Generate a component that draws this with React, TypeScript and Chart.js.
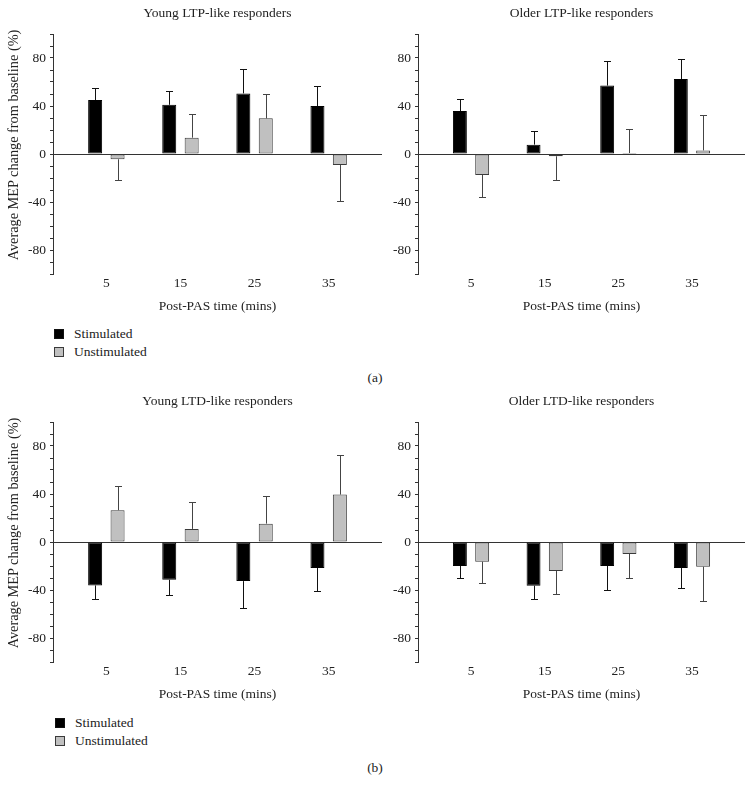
import React, { useEffect, useRef } from 'react';
import { Chart, registerables } from 'chart.js';

Chart.register(...registerables);

// ---------- data ----------
const timePoints = [5, 15, 25, 35];
const timeLabels = ['5', '15', '25', '35'];
const seriesNames = ['Stimulated', 'Unstimulated'];

const youngLtpStim = [45, 41, 50.5, 40];
const youngLtpStimErr = [10, 11.5, 20.5, 16.7];
const youngLtpUnstim = [-4.4, 13.6, 29.7, -9.2];
const youngLtpUnstimErr = [17.6, 19.4, 20, 29.7];

const olderLtpStim = [35.8, 7.8, 57, 62.5];
const olderLtpStimErr = [10, 11.1, 20.5, 16.7];
const olderLtpUnstim = [-17.5, -1.9, 0.8, 3];
const olderLtpUnstimErr = [18.1, 19.8, 20.3, 29.2];

const youngLtdStim = [-36.2, -31.5, -32.6, -21.7];
const youngLtdStimErr = [11.4, 12.8, 22.8, 18.9];
const youngLtdUnstim = [26.5, 10.9, 15.3, 39.5];
const youngLtdUnstimErr = [20.3, 22.2, 22.9, 33.2];

const olderLtdStim = [-20, -36.4, -20, -21.7];
const olderLtdStimErr = [10, 11.1, 19.7, 16.6];
const olderLtdUnstim = [-16.4, -24.2, -10, -20.6];
const olderLtdUnstimErr = [17.8, 19.4, 20, 28.8];

const yAxisTitle = 'Average MEP change from baseline (%)';
const xAxisTitle = 'Post-PAS time (mins)';

// ---------- style ----------
const FONT_FAMILY = "'Liberation Serif', 'Times New Roman', serif";
const TEXT_COLOR = '#222';
const STIM_COLOR = '#000000';
const UNSTIM_COLOR = '#c0c0c0';
const UNSTIM_BORDER = '#3a3a3a';

const errorBarPlugin = {
  id: 'errorBars',
  afterDatasetsDraw(chart: any) {
    const ctx = chart.ctx;
    const yScale = chart.scales.y;
    chart.data.datasets.forEach((ds: any, di: number) => {
      const errs = ds.errors;
      if (!errs) return;
      const meta = chart.getDatasetMeta(di);
      ctx.save();
      ctx.strokeStyle = ds.errorColor || '#000';
      ctx.lineWidth = 1;
      meta.data.forEach((bar: any, i: number) => {
        const v = ds.data[i].y;
        const e = errs[i];
        const end = v >= 0 ? v + e : v - e;
        const x = Math.round(bar.x) + 0.5;
        const y0 = bar.y;
        const y1 = Math.round(yScale.getPixelForValue(end)) + 0.5;
        ctx.beginPath();
        ctx.moveTo(x, y0);
        ctx.lineTo(x, y1);
        ctx.moveTo(x - 3.5, y1);
        ctx.lineTo(x + 3.5, y1);
        ctx.stroke();
      });
      ctx.restore();
    });
  },
};

type PanelProps = {
  title: string;
  stim: number[];
  stimErr: number[];
  unstim: number[];
  unstimErr: number[];
  left: number;
  top: number;
  width: number;
  height: number;
  yAxisWidth: number;
  padRight: number;
};

function Panel(p: PanelProps) {
  const ref = useRef<HTMLCanvasElement | null>(null);
  useEffect(() => {
    if (!ref.current) return;
    const font = { family: FONT_FAMILY, size: 13.5 };
    const chart = new Chart(ref.current, {
      type: 'bar',
      data: {
        datasets: [
          {
            label: seriesNames[0],
            data: timePoints.map((x, i) => ({ x, y: p.stim[i] })),
            backgroundColor: STIM_COLOR,
            borderColor: STIM_COLOR,
            borderWidth: 1,
            borderSkipped: false,
            categoryPercentage: 0.605,
            barPercentage: 0.625,
            errors: p.stimErr,
            errorColor: '#111',
          } as any,
          {
            label: seriesNames[1],
            data: timePoints.map((x, i) => ({ x, y: p.unstim[i] })),
            backgroundColor: UNSTIM_COLOR,
            borderColor: UNSTIM_BORDER,
            borderWidth: 1,
            borderSkipped: false,
            categoryPercentage: 0.605,
            barPercentage: 0.625,
            errors: p.unstimErr,
            errorColor: '#444',
          } as any,
        ],
      },
      options: {
        animation: false,
        responsive: false,
        layout: { padding: { left: 0, right: p.padRight, top: 0, bottom: 0 } },
        plugins: {
          legend: { display: false },
          tooltip: { enabled: false },
          title: { display: false },
        },
        scales: {
          x: {
            type: 'linear',
            position: 'bottom',
            min: -2.2,
            max: 42.2,
            offset: false,
            grid: { display: false, drawTicks: false },
            border: { display: false },
            ticks: {
              autoSkip: false,
              padding: 1,
              font,
              color: TEXT_COLOR,
              maxRotation: 0,
              callback: (_v: any, i: number) => timeLabels[i],
            },
            afterBuildTicks: (s: any) => {
              s.ticks = timePoints.map((v) => ({ value: v }));
            },
            afterFit: (s: any) => {
              s.height = 46;
            },
            title: {
              display: true,
              text: xAxisTitle,
              font,
              color: TEXT_COLOR,
              padding: { top: 0, bottom: 5 },
            },
          },
          xTop: {
            type: 'linear',
            position: 'top',
            grid: { display: false },
            border: { display: false },
            ticks: { display: false },
            afterFit: (s: any) => {
              s.height = 34;
            },
            title: {
              display: true,
              text: p.title,
              font,
              color: TEXT_COLOR,
              padding: { top: 5, bottom: 0 },
            },
          },
          y: {
            type: 'linear',
            position: 'left',
            min: -100,
            max: 100,
            grid: {
              drawOnChartArea: true,
              color: (c: any) => (c.tick && c.tick.value === 0 ? '#333' : 'rgba(0,0,0,0)'),
              tickColor: '#333',
              tickLength: 3,
              lineWidth: 1,
            },
            border: { display: true, color: '#333', width: 1 },
            ticks: {
              stepSize: 10,
              autoSkip: false,
              padding: 4,
              font,
              color: TEXT_COLOR,
              callback: (v: any) => (Number(v) % 40 === 0 ? String(v) : ''),
            },
            afterFit: (s: any) => {
              s.width = p.yAxisWidth;
            },
          },
        },
      } as any,
      plugins: [errorBarPlugin],
    });
    return () => chart.destroy();
  }, []);
  return (
    <canvas
      ref={ref}
      width={p.width}
      height={p.height}
      style={{ position: 'absolute', left: p.left, top: p.top, width: p.width, height: p.height }}
    />
  );
}

function YTitle({ cx, cy }: { cx: number; cy: number }) {
  return (
    <div
      style={{
        position: 'absolute',
        left: cx - 150,
        top: cy - 9,
        width: 300,
        height: 18,
        lineHeight: '18px',
        textAlign: 'center',
        fontFamily: FONT_FAMILY,
        fontSize: 14.3,
        color: TEXT_COLOR,
        whiteSpace: 'nowrap',
        transform: 'rotate(-90deg)',
        transformOrigin: '50% 50%',
      }}
    >
      {yAxisTitle}
    </div>
  );
}

function Legend({ left, top }: { left: number; top: number }) {
  const colors = [STIM_COLOR, UNSTIM_COLOR];
  const borders = ['#111', UNSTIM_BORDER];
  return (
    <>
      {seriesNames.map((name, i) => (
        <div key={name}>
          <div
            style={{
              position: 'absolute',
              left,
              top: top + i * 18 - 5,
              width: 10,
              height: 10,
              boxSizing: 'border-box',
              background: colors[i],
              border: `1px solid ${borders[i]}`,
            }}
          />
          <div
            style={{
              position: 'absolute',
              left: left + 20,
              top: top + i * 18 - 9,
              height: 18,
              lineHeight: '18px',
              fontFamily: FONT_FAMILY,
              fontSize: 13.5,
              color: TEXT_COLOR,
              whiteSpace: 'nowrap',
            }}
          >
            {name}
          </div>
        </div>
      ))}
    </>
  );
}

function PartLabel({ text, cx, cy }: { text: string; cx: number; cy: number }) {
  return (
    <div
      style={{
        position: 'absolute',
        left: cx - 20,
        top: cy - 9,
        width: 40,
        height: 18,
        lineHeight: '18px',
        textAlign: 'center',
        fontFamily: FONT_FAMILY,
        fontSize: 13.5,
        color: TEXT_COLOR,
      }}
    >
      {text}
    </div>
  );
}

export default function App() {
  return (
    <div style={{ position: 'absolute', left: 0, top: 0, width: 754, height: 793, background: '#fff', overflow: 'hidden' }}>
      <Panel title="Young LTP-like responders" stim={youngLtpStim} stimErr={youngLtpStimErr} unstim={youngLtpUnstim} unstimErr={youngLtpUnstimErr} left={0} top={0} width={390} height={320} yAxisWidth={53} padRight={8} />
      <YTitle cx={13} cy={145} />
      <Panel title="Older LTP-like responders" stim={olderLtpStim} stimErr={olderLtpStimErr} unstim={olderLtpUnstim} unstimErr={olderLtpUnstimErr} left={385} top={0} width={369} height={320} yAxisWidth={33} padRight={9} />
      <Legend left={54} top={334} />
      <PartLabel text="(a)" cx={375} cy={378} />
      <Panel title="Young LTD-like responders" stim={youngLtdStim} stimErr={youngLtdStimErr} unstim={youngLtdUnstim} unstimErr={youngLtdUnstimErr} left={0} top={388} width={390} height={320} yAxisWidth={53} padRight={8} />
      <YTitle cx={13} cy={533} />
      <Panel title="Older LTD-like responders" stim={olderLtdStim} stimErr={olderLtdStimErr} unstim={olderLtdUnstim} unstimErr={olderLtdUnstimErr} left={385} top={388} width={369} height={320} yAxisWidth={33} padRight={9} />
      <Legend left={55} top={723} />
      <PartLabel text="(b)" cx={375} cy={768} />
    </div>
  );
}
